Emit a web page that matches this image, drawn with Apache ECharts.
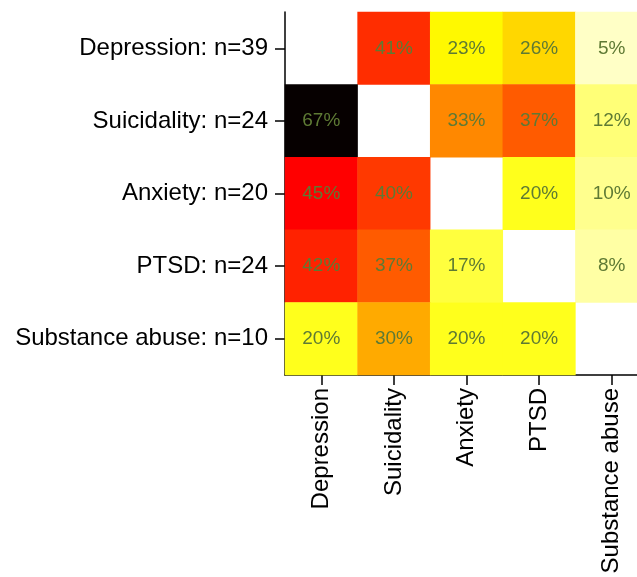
<!DOCTYPE html>
<html>
<head>
<meta charset="utf-8">
<script src="https://cdn.jsdelivr.net/npm/echarts@6/dist/echarts.min.js"></script>
<style>
  html, body { margin: 0; padding: 0; background: #fff; }
  #main { width: 637px; height: 577px; }
</style>
</head>
<body>
<div id="main"></div>
<script>
// 列：共病类别
var colNames = ["Depression", "Suicidality", "Anxiety", "PTSD", "Substance abuse"];
// 行：主诊断 + 样本数
var rowNames = ["Depression: n=39", "Suicidality: n=24", "Anxiety: n=20", "PTSD: n=24", "Substance abuse: n=10"];
// 百分比，对角线为空
var depressionRow = ["-", 41, 23, 26, 5];
var suicidalityRow = [67, "-", 33, 37, 12];
var anxietyRow = [45, 40, "-", 20, 10];
var ptsdRow = [42, 37, 17, "-", 8];
var substanceRow = [20, 30, 20, 20, "-"];

var rows = [depressionRow, suicidalityRow, anxietyRow, ptsdRow, substanceRow];
var cells = [];
rows.forEach(function (r, yi) {
  r.forEach(function (v, xi) {
    cells.push([xi, yi, v]);
  });
});

var font = "'Liberation Sans', Arial, sans-serif";
var tick = { show: true, interval: 0, alignWithLabel: true, length: 10, lineStyle: { color: "#000", width: 1.5 } };
var myChart = echarts.init(document.getElementById("main"));
var option = {
  animation: false,
  grid: { left: 285, top: 12, width: 363, height: 363, outerBoundsMode: "none", containLabel: false },
  xAxis: {
    type: "category",
    data: colNames,
    axisLine: { lineStyle: { color: "#000", width: 1.5 } },
    axisTick: tick,
    axisLabel: { interval: 0, rotate: 90, margin: 13, color: "#000", fontSize: 24, fontFamily: font },
    splitArea: { show: false }
  },
  yAxis: {
    type: "category",
    data: rowNames,
    inverse: true,
    axisLine: { lineStyle: { color: "#000", width: 1.5 } },
    axisTick: tick,
    axisLabel: { interval: 0, margin: 17, color: "#000", fontSize: 24, fontFamily: font },
    splitArea: { show: false }
  },
  visualMap: {
    show: false,
    min: 0,
    max: 67.5,
    calculable: false,
    inRange: { color: ["#ffffff", "#ffff00", "#ff0000", "#000000"] }
  },
  series: [
    {
      type: "heatmap",
      data: cells,
      label: {
        show: true,
        color: "#5e7a34",
        fontSize: 19,
        fontFamily: font,
        formatter: function (p) { return p.value[2] + "%"; }
      },
      itemStyle: { borderWidth: 0 }
    }
  ]
};
myChart.setOption(option);
</script>
</body>
</html>
